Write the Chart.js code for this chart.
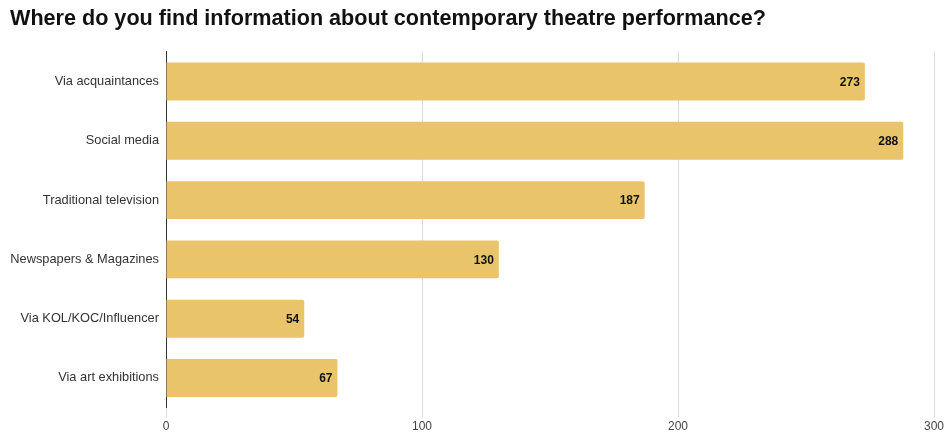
<!DOCTYPE html>
<html>
<head>
<meta charset="utf-8">
<script src="https://cdn.jsdelivr.net/npm/chart.js@4"></script>
<style>
  html, body { margin: 0; padding: 0; background: #fff; }
  #wrap { width: 945px; height: 439px; }
</style>
</head>
<body>
<div id="wrap"><canvas id="sources"></canvas></div>
<script>
const categories = [
  "Via acquaintances",
  "Social media",
  "Traditional television",
  "Newspapers & Magazines",
  "Via KOL/KOC/Influencer",
  "Via art exhibitions"
];
const responses = [273, 288, 187, 130, 54, 67];
const xTicks = [0, 100, 200, 300];

// value labels drawn just inside the end of each bar
const barValues = {
  id: "barValues",
  afterDatasetsDraw(chart) {
    const ctx = chart.ctx;
    const meta = chart.getDatasetMeta(0);
    ctx.save();
    ctx.font = "bold 12px 'Liberation Sans', Arial, sans-serif";
    ctx.fillStyle = "#111";
    ctx.textAlign = "right";
    ctx.textBaseline = "middle";
    meta.data.forEach((bar, i) => {
      ctx.fillText(String(responses[i]), bar.x - 5, bar.y + 1);
    });
    ctx.restore();
  }
};

const ctx = document.getElementById("sources").getContext("2d");

new Chart(ctx, {
  type: "bar",
  data: {
    labels: categories,
    datasets: [{
      data: responses,
      backgroundColor: "#E9C46A",
      borderRadius: 2,
      borderSkipped: "start",
      barPercentage: 0.64,
      categoryPercentage: 1
    }]
  },
  options: {
    indexAxis: "y",
    responsive: true,
    maintainAspectRatio: false,
    animation: false,
    layout: { padding: { left: 10, right: 11, top: 0, bottom: 3 } },
    plugins: {
      legend: { display: false },
      tooltip: { enabled: false },
      title: {
        display: true,
        text: "Where do you find information about contemporary theatre performance?",
        align: "start",
        color: "#111",
        font: { family: "'Liberation Sans', Arial, sans-serif", size: 21.6, weight: "bold" },
        padding: { top: 6, bottom: 20 }
      }
    },
    scales: {
      x: {
        min: 0,
        max: 300,
        afterBuildTicks: (scale) => { scale.ticks = xTicks.map(v => ({ value: v })); },
        afterFit: (scale) => { scale.paddingRight = 0; },
        border: { display: false },
        grid: { color: "#d9d9d9", lineWidth: 1, tickLength: 10 },
        ticks: {
          color: "#444",
          padding: 2,
          font: { family: "'Liberation Sans', Arial, sans-serif", size: 12 }
        }
      },
      y: {
        afterFit: (scale) => { scale.width = 156; },
        border: { display: true, color: "#333", width: 1 },
        grid: { display: false, drawTicks: false },
        ticks: {
          color: "#333",
          padding: 7,
          font: { family: "'Liberation Sans', Arial, sans-serif", size: 12.8 }
        }
      }
    }
  },
  plugins: [barValues]
});
</script>
</body>
</html>
